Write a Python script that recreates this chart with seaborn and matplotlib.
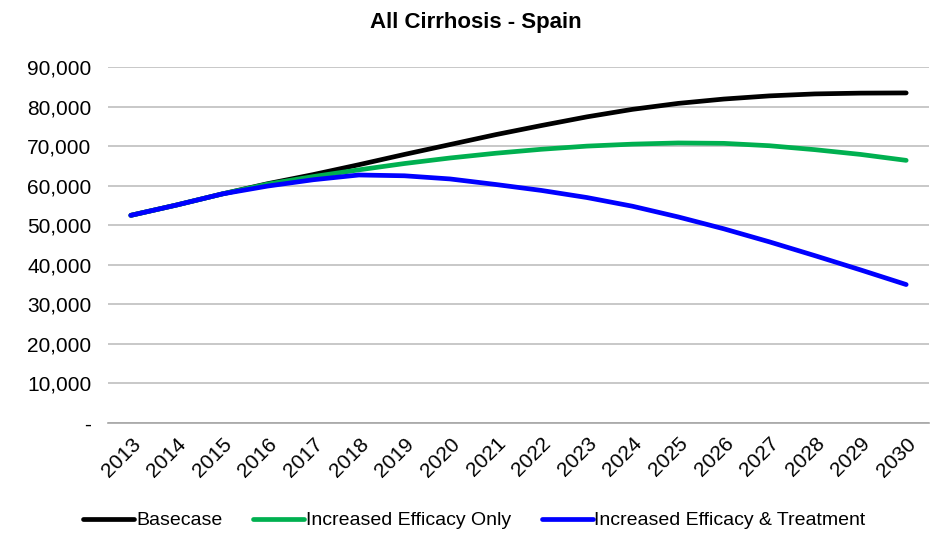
import numpy as np
import pandas as pd
import seaborn as sns
import matplotlib.pyplot as plt
from matplotlib.ticker import FixedLocator, FuncFormatter

# Data
YEARS = [str(y) for y in range(2013, 2031)]
BASECASE = [52500, 55100, 57900, 60500, 62800, 65300, 67900, 70400, 72900,
            75200, 77400, 79300, 80800, 81900, 82700, 83200, 83400, 83450]
EFFICACY_ONLY = [52500, 55100, 57900, 60400, 62300, 64000, 65600, 67000, 68200,
                 69200, 70000, 70500, 70800, 70700, 70100, 69100, 67900, 66400]
EFFICACY_TREATMENT = [52500, 55100, 57900, 59900, 61500, 62700, 62500, 61700, 60300,
                      58800, 57000, 54800, 52100, 49100, 45800, 42300, 38700, 35000]
SERIES = ["Basecase", "Increased Efficacy Only", "Increased Efficacy & Treatment"]
COLORS = ["#000000", "#00B050", "#0000FF"]

sns.set_theme(style="white")
plt.rcParams['font.family'] = ['Liberation Sans', 'DejaVu Sans']
plt.rcParams['text.color'] = 'black'
plt.rcParams['xtick.color'] = 'black'
plt.rcParams['ytick.color'] = 'black'

df = pd.DataFrame({
    "year": YEARS * 3,
    "value": BASECASE + EFFICACY_ONLY + EFFICACY_TREATMENT,
    "series": [s for s in SERIES for _ in YEARS],
})

fig = plt.figure(figsize=(9.36, 5.34), dpi=100)
ax = fig.add_axes([0.1154, 0.2079, 0.8771, 0.6666])

sns.lineplot(data=df, x="year", y="value", hue="series", palette=COLORS,
             linewidth=3.4, ax=ax, sort=False, legend=True)
for ln in ax.lines:
    ln.set_solid_capstyle("round")
    ln.set_solid_joinstyle("round")

ax.set_xlim(-0.5, len(YEARS) - 0.5)
ax.set_ylim(0, 90000)
ax.set_yticks(np.arange(0, 90001, 10000))
ax.yaxis.set_major_formatter(FuncFormatter(lambda v, p: "-" if v == 0 else f"{int(v):,}"))
ax.grid(axis="y", color="#BFBFBF", linewidth=1.2)
ax.grid(axis="x", visible=False)
ax.set_axisbelow(True)

for side in ["left", "top", "right"]:
    ax.spines[side].set_visible(False)
ax.spines["bottom"].set_color("#A6A6A6")
ax.spines["bottom"].set_linewidth(1.2)

# category labels, tick marks between categories
ax.set_xticks(range(len(YEARS)))
ax.set_xticklabels(YEARS, rotation=45, ha="right", rotation_mode="anchor", fontsize=15)
ax.tick_params(axis="x", which="major", length=0, pad=8)
ax.xaxis.set_minor_locator(FixedLocator(np.arange(-0.5, len(YEARS), 1)))
ax.tick_params(axis="x", which="minor", length=6, color="#A6A6A6", width=1.2, direction="out")
ax.tick_params(axis="y", length=0, labelsize=15, pad=12)
ax.set_xlabel("")
ax.set_ylabel("")

fig.text(0.508, 0.958, "All Cirrhosis - Spain", ha="center", va="center",
         fontsize=16, fontweight="bold")

handles, labels = ax.get_legend_handles_labels()
ax.legend_.remove()
fig.legend(handles, labels, loc="center", bbox_to_anchor=(0.507, 0.025), ncol=3,
           frameon=False, handlelength=2.6, handletextpad=0.1, columnspacing=1.6,
           prop={'size': 14})

fig.savefig("out.png", dpi=100)
